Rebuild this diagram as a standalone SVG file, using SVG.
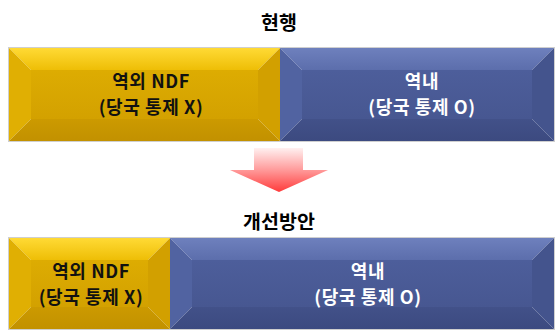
<svg xmlns="http://www.w3.org/2000/svg" width="558" height="330" viewBox="0 0 558 330">
  <defs>
    <linearGradient id="yTop" x1="0" y1="0" x2="0" y2="1"><stop offset="0" stop-color="#FFDA35"/><stop offset="1" stop-color="#EEBE06"/></linearGradient>
    <linearGradient id="yMid" x1="0" y1="0" x2="0" y2="1"><stop offset="0" stop-color="#DDAC02"/><stop offset="1" stop-color="#D3A100"/></linearGradient>
    <linearGradient id="yBot" x1="0" y1="0" x2="0" y2="1"><stop offset="0" stop-color="#CC9A00"/><stop offset="1" stop-color="#C29100"/></linearGradient>
    <linearGradient id="bTop" x1="0" y1="0" x2="0" y2="1"><stop offset="0" stop-color="#6E80BD"/><stop offset="1" stop-color="#5C6EAC"/></linearGradient>
    <linearGradient id="bMid" x1="0" y1="0" x2="0" y2="1"><stop offset="0" stop-color="#4D5E9B"/><stop offset="1" stop-color="#475791"/></linearGradient>
    <linearGradient id="bBot" x1="0" y1="0" x2="0" y2="1"><stop offset="0" stop-color="#425189"/><stop offset="1" stop-color="#3C4A80"/></linearGradient>
    <linearGradient id="arrowGrad" x1="0" y1="0" x2="0" y2="1"><stop offset="0" stop-color="#FFF0F0"/><stop offset="0.5" stop-color="#FF9A9A"/><stop offset="1" stop-color="#FF3B3B"/></linearGradient>
  </defs>
  <style>
    .title{font-family:"Noto Sans CJK KR","Noto Sans",sans-serif;font-weight:bold;font-size:19.5px;fill:#000;text-anchor:middle}
    .lbl{font-family:"Noto Sans CJK KR","Noto Sans",sans-serif;font-weight:bold;font-size:18px;letter-spacing:0.6px;text-anchor:middle}
    .dark{fill:#111}
    .light{fill:#fff}
    .yl{fill:#E0AF03}
    .yr{fill:#D2A000}
    .bl{fill:#5163A1}
    .br{fill:#44548D}
    .edge{fill:none;stroke:#CFCFCF;stroke-width:1}
  </style>

  <text class="title" x="279" y="30">현행</text>

  <g id="top-offshore">
    <rect class="edge" x="8.5" y="47.5" width="272" height="94"/>
    <rect x="31" y="70" width="227" height="49" fill="url(#yMid)"/>
    <polygon points="9,48 280,48 258,70 31,70" fill="url(#yTop)"/>
    <polygon class="yl" points="9,48 31,70 31,119 9,141"/>
    <polygon class="yr" points="280,48 280,141 258,119 258,70"/>
    <polygon points="9,141 31,119 258,119 280,141" fill="url(#yBot)"/>
    <text class="lbl dark" x="151" y="88">역외 NDF</text>
    <text class="lbl dark" x="151" y="114">(당국 통제 X)</text>
  </g>

  <g id="top-onshore">
    <rect class="edge" x="280.5" y="47.5" width="274" height="94"/>
    <rect x="302" y="70" width="230" height="49" fill="url(#bMid)"/>
    <polygon points="280,48 554,48 532,70 302,70" fill="url(#bTop)"/>
    <polygon class="bl" points="280,48 302,70 302,119 280,141"/>
    <polygon class="br" points="554,48 554,141 532,119 532,70"/>
    <polygon points="280,141 302,119 532,119 554,141" fill="url(#bBot)"/>
    <text class="lbl light" x="422" y="88">역내</text>
    <text class="lbl light" x="422" y="114">(당국 통제 O)</text>
  </g>

  <g id="connectors">
    <polygon points="254,148 303,148 303,170 328,170 279,192 230,170 254,170" fill="url(#arrowGrad)"/>
  </g>

  <text class="title" x="279" y="229">개선방안</text>

  <g id="new-offshore">
    <rect class="edge" x="8.5" y="237.5" width="162" height="92"/>
    <rect x="31" y="260" width="117" height="47" fill="url(#yMid)"/>
    <polygon points="9,238 170,238 148,260 31,260" fill="url(#yTop)"/>
    <polygon class="yl" points="9,238 31,260 31,307 9,329"/>
    <polygon class="yr" points="170,238 170,329 148,307 148,260"/>
    <polygon points="9,329 31,307 148,307 170,329" fill="url(#yBot)"/>
    <text class="lbl dark" x="91" y="278">역외 NDF</text>
    <text class="lbl dark" x="91" y="304">(당국 통제 X)</text>
  </g>

  <g id="new-onshore">
    <rect class="edge" x="170.5" y="237.5" width="384" height="92"/>
    <rect x="192" y="260" width="340" height="47" fill="url(#bMid)"/>
    <polygon points="170,238 554,238 532,260 192,260" fill="url(#bTop)"/>
    <polygon class="bl" points="170,238 192,260 192,307 170,329"/>
    <polygon class="br" points="554,238 554,329 532,307 532,260"/>
    <polygon points="170,329 192,307 532,307 554,329" fill="url(#bBot)"/>
    <text class="lbl light" x="368" y="278">역내</text>
    <text class="lbl light" x="368" y="304">(당국 통제 O)</text>
  </g>
</svg>
